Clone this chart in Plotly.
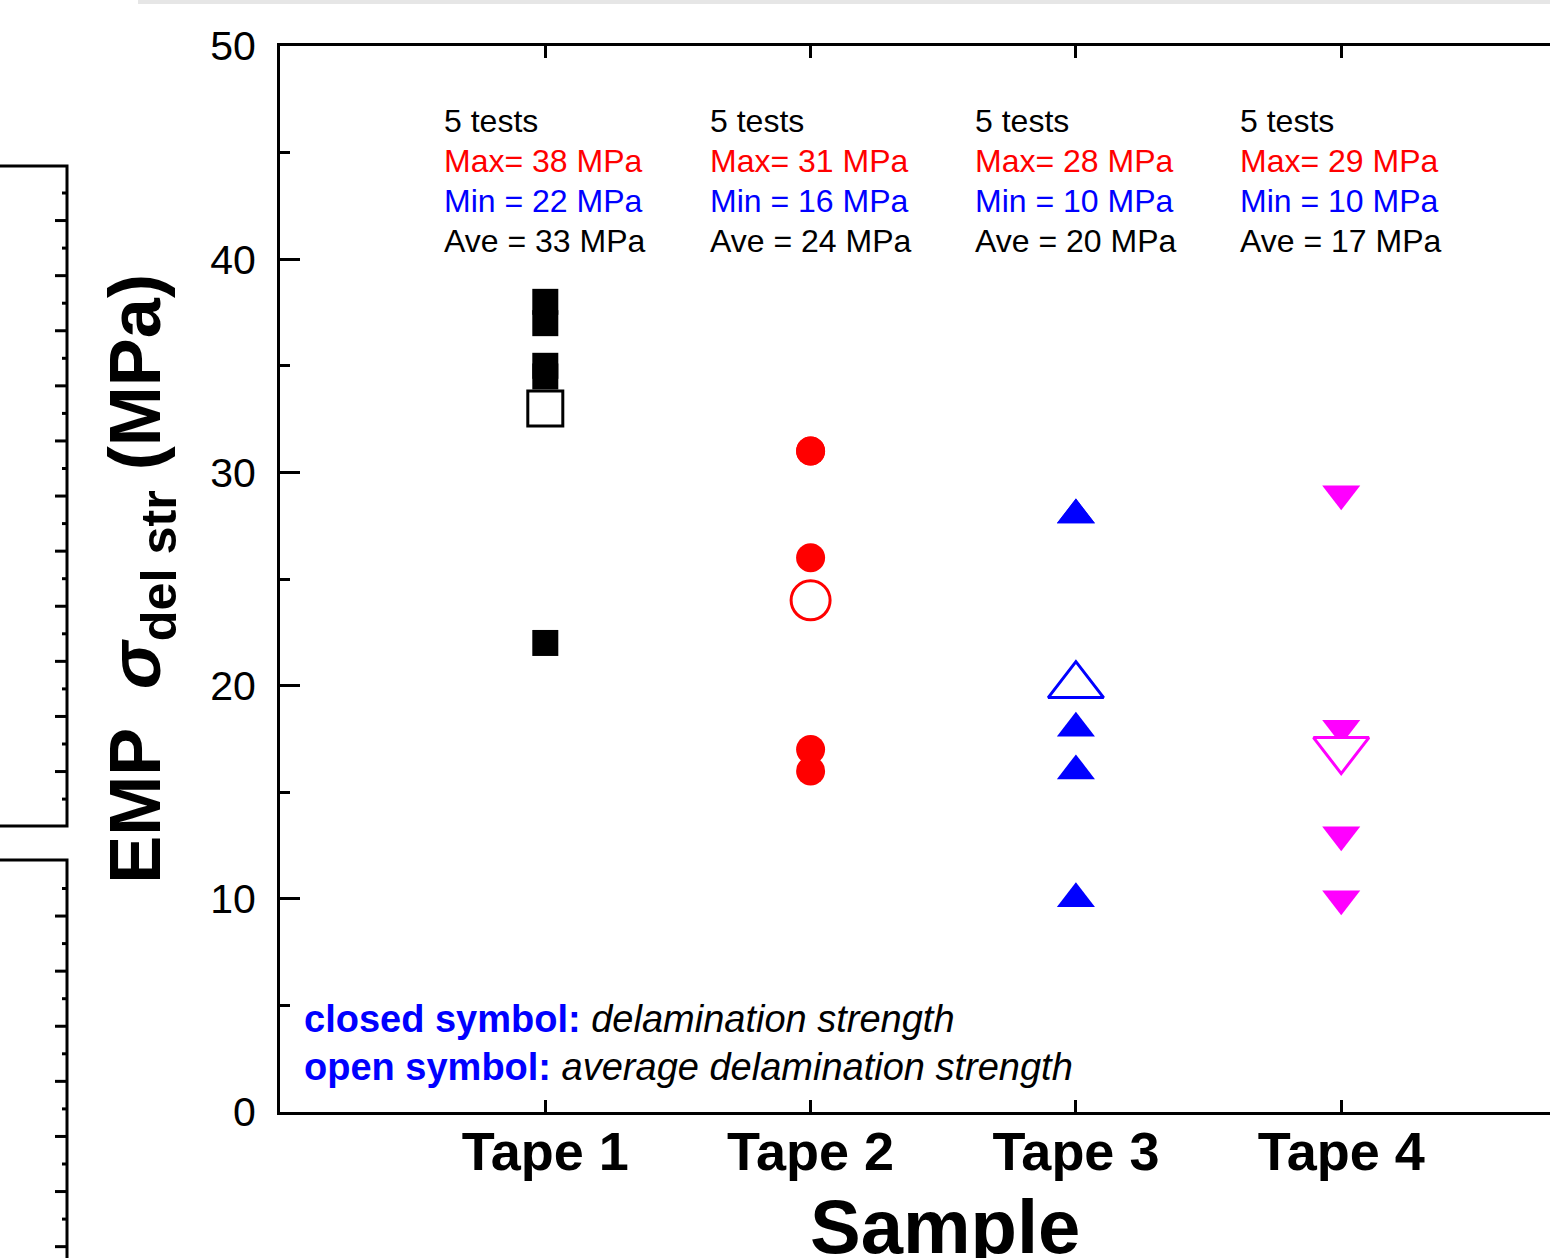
import plotly.graph_objects as go

# ---------------- data ----------------
categories = ["Tape 1", "Tape 2", "Tape 3", "Tape 4"]
tape1_vals = [38, 37, 35, 34.5, 22]
tape2_vals = [31, 31, 26, 17, 16]
tape3_vals = [28, 28, 18, 16, 10]
tape4_vals = [29, 18, 17, 13, 10]
ave_vals = [33, 24, 20, 17]
max_vals = [38, 31, 28, 29]
min_vals = [22, 16, 10, 10]
n_tests = [5, 5, 5, 5]
y_ticks = [0, 10, 20, 30, 40, 50]

# ---------------- styles ----------------
FONT = "Liberation Sans, Arial, sans-serif"
colors = ["#000000", "#FF0000", "#0000FF", "#FF00FF"]
symbols = ["square", "circle", "triangle-up", "triangle-down"]
closed_sizes = [26, 29, 33, 33]
open_sizes = [35, 39, 48, 48]

W, H = 1550, 1258
L, R, T, B = 280, 0, 46, 146
PW, PH = W - L - R, H - T - B


def px(x):
    return (x - L) / PW


def py(y):
    return (H - B - y) / PH


fig = go.Figure()
series = [tape1_vals, tape2_vals, tape3_vals, tape4_vals]
for i, vals in enumerate(series):
    fig.add_trace(go.Scatter(
        x=[categories[i]] * len(vals), y=vals, mode="markers",
        marker=dict(symbol=symbols[i], size=closed_sizes[i], color=colors[i],
                    line=dict(width=0)),
        showlegend=False, cliponaxis=False))
for i in range(4):
    fig.add_trace(go.Scatter(
        x=[categories[i]], y=[ave_vals[i]], mode="markers",
        marker=dict(symbol=symbols[i], size=open_sizes[i], color="white",
                    line=dict(width=3, color=colors[i])),
        showlegend=False, cliponaxis=False))

annotations = []
line_y = [46.5, 44.62, 42.74, 40.86]
for i, c in enumerate(categories):
    lines = [
        (f"{n_tests[i]} tests", "#000000"),
        (f"Max= {max_vals[i]} MPa", "#FF0000"),
        (f"Min = {min_vals[i]} MPa", "#0000FF"),
        (f"Ave = {ave_vals[i]} MPa", "#000000"),
    ]
    for j, (txt, col) in enumerate(lines):
        annotations.append(dict(
            x=c, y=line_y[j], xref="x", yref="y", text=txt, showarrow=False,
            xanchor="left", yanchor="middle", xshift=-103,
            font=dict(family=FONT, size=32, color=col)))

annotations.append(dict(
    x=px(302), y=py(1019), xref="paper", yref="paper", xanchor="left", yanchor="middle",
    text="<b>closed symbol:</b> <span style='color:#000000'><i>delamination strength</i></span>",
    showarrow=False, font=dict(family=FONT, size=38, color="#0000FF")))
annotations.append(dict(
    x=px(302), y=py(1067), xref="paper", yref="paper", xanchor="left", yanchor="middle",
    text="<b>open symbol:</b> <span style='color:#000000'><i>average delamination strength</i></span>",
    showarrow=False, font=dict(family=FONT, size=38, color="#0000FF")))
annotations.append(dict(
    x=px(945), y=py(1182), xref="paper", yref="paper", xanchor="center", yanchor="top",
    text="<b>Sample</b>", showarrow=False,
    font=dict(family=FONT, size=76, color="#000000")))

# decorations: fragments of neighbouring panels and top shadow
shapes = []
lw = 3
shapes.append(dict(type="rect", xref="paper", yref="paper", x0=px(138), x1=px(1550),
                   y0=py(0), y1=py(4), fillcolor="#e6e6e6", line=dict(width=0), layer="below"))
# panel fragment 1
shapes.append(dict(type="path", xref="paper", yref="paper",
                   path=f"M {px(-2)},{py(166)} L {px(67)},{py(166)} L {px(67)},{py(826)} L {px(-2)},{py(826)}",
                   line=dict(color="black", width=lw)))
k = 0
yy = 193.0
while yy < 815:
    ln = 5 if k % 2 == 0 else 12
    shapes.append(dict(type="line", xref="paper", yref="paper", x0=px(67 - ln), x1=px(67),
                       y0=py(yy), y1=py(yy), line=dict(color="black", width=lw)))
    yy += 27.55
    k += 1
# panel fragment 2
shapes.append(dict(type="path", xref="paper", yref="paper",
                   path=f"M {px(-2)},{py(860)} L {px(67)},{py(860)} L {px(67)},{py(1262)}",
                   line=dict(color="black", width=lw)))
k = 0
yy = 888.5
while yy < 1258:
    ln = 5 if k % 2 == 0 else 12
    shapes.append(dict(type="line", xref="paper", yref="paper", x0=px(67 - ln), x1=px(67),
                       y0=py(yy), y1=py(yy), line=dict(color="black", width=lw)))
    yy += 27.55
    k += 1

fig.update_layout(
    width=W, height=H,
    margin=dict(l=L, r=R, t=T, b=B, autoexpand=False),
    paper_bgcolor="white", plot_bgcolor="white",
    font=dict(family=FONT, color="black"),
    annotations=annotations, shapes=shapes,
    xaxis=dict(
        type="category", categoryorder="array", categoryarray=categories,
        range=[-1, 3.787], showline=True, linewidth=3, linecolor="black",
        mirror="ticks", ticks="inside", ticklen=12, tickwidth=3, tickcolor="black",
        showgrid=False, zeroline=False, ticklabelstandoff=-10,
        tickfont=dict(family=FONT, size=54, color="black", weight="bold"),
    ),
    yaxis=dict(
        range=[0, 50], tickvals=y_ticks, showline=True, linewidth=3, linecolor="black",
        mirror=False, ticks="inside", ticklen=20, tickwidth=3, tickcolor="black",
        minor=dict(dtick=5, tick0=0, ticks="inside", ticklen=10, tickwidth=3, tickcolor="black"),
        showgrid=False, zeroline=False, ticklabelstandoff=13,
        tickfont=dict(family=FONT, size=41, color="black"),
        title=dict(text="<b>EMP  <i>σ</i><sub>del str</sub> (MPa)</b>", standoff=26,
                   font=dict(family=FONT, size=72, color="black")),
    ),
)

fig.write_html("out.html", config={"displayModeBar": False},
               post_script="document.body.style.margin='0px';")
